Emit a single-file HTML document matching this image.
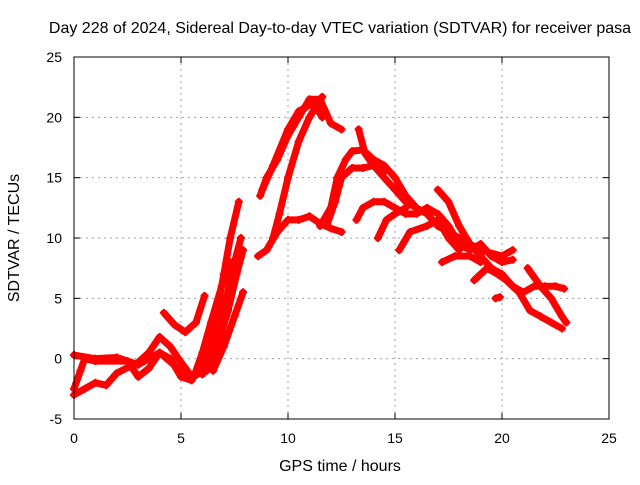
<!DOCTYPE html>
<html><head><meta charset="utf-8"><style>
body{margin:0;background:#fff;}
svg text{font-family:"Liberation Sans",sans-serif;font-size:14px;fill:#000;}
svg text.big{font-size:16px;}
</style></head><body>
<svg id="chart" width="640" height="480" xmlns="http://www.w3.org/2000/svg">
<text class="big" x="340" y="33" text-anchor="middle">Day 228 of 2024, Sidereal Day-to-day VTEC variation (SDTVAR) for receiver pasa</text>
<text class="big" x="340" y="471" text-anchor="middle">GPS time / hours</text>
<text class="big" transform="translate(19,238) rotate(-90)" text-anchor="middle">SDTVAR / TECUs</text>
<g id="grid"></g><g id="ticks"></g><g id="marks"></g>
<rect x="74" y="57" width="535" height="362" fill="none" stroke="#000" stroke-width="1"/>
</svg>
<script>
const xTicks=[0,5,10,15,20,25];
const yTicks=[-5,0,5,10,15,20,25];
const track1=[[0,0.3],[1,0],[2,0.1],[3,-0.5],[4,0.5],[5,-1],[5.6,-1.5],[6,-1]];
const track2=[[0,-3],[0.5,-2.5],[1,-2],[1.5,-2.2],[2,-1.2],[3,-0.3],[3.5,0.5],[4,1.8],[4.5,1],[5,-0.3],[5.5,-1.5],[5.8,-1.2]];
const track3=[[0,-2.5],[0.3,-1],[0.5,0],[1,-0.2],[2.5,-0.2],[3,-1.5],[3.5,-0.8],[4,0.5],[4.5,0],[5,-1.5],[5.5,-1.8]];
const track4=[[4.2,3.8],[4.7,2.8],[5.2,2.2],[5.7,3],[6.1,5.2]];
const track5=[[5.8,-1],[6.2,0],[6.6,3],[7,7],[7.3,10],[7.7,13]];
const track6=[[6,-1.3],[6.5,0.5],[7,4],[7.5,8],[7.8,10]];
const track7=[[6.2,-1],[6.7,1],[7.2,4],[7.6,7],[7.9,9]];
const track8=[[6.5,-1],[7,1],[7.5,3.5],[7.9,5.5]];
const track9=[[5.6,-1.5],[6,0.5],[6.4,3],[6.9,6],[7.3,8]];
const track10=[[8.7,13.5],[9,15],[9.5,16.5],[10,18.5],[10.5,20],[11,21.5],[11.5,21.5],[12,19.5],[12.5,19]];
const track11=[[8.8,14],[9.3,16],[10,19],[10.5,20.5],[11.2,21.2],[11.6,20]];
const track12=[[8.6,8.5],[9,9],[9.5,10.5],[10,11.5],[10.5,11.5],[11,11.8],[11.5,11.2],[12,10.8],[12.5,10.5]];
const track13=[[9.3,10],[9.6,12],[10,15],[10.5,18],[11,20],[11.6,21.7]];
const track14=[[11.5,11],[12,12.5],[12.3,15],[12.7,16.5],[13,17.2],[13.5,17.3],[14,16.5],[14.5,16],[15,15],[15.5,13.5],[16,12.5]];
const track15=[[11.8,11],[12.2,13],[12.5,15],[13,15.8],[13.5,15.8],[14,16],[14.5,15.5]];
const track16=[[13.3,19],[13.6,17],[14,16],[14.5,15],[15,14],[15.5,13],[16,12.5],[16.5,12],[17,11],[17.5,10.5],[18,10],[19,9],[20,8.5],[20.5,9]];
const track17=[[13.2,11.5],[13.5,12.5],[14,13],[14.5,13],[15,12.5],[15.5,12],[16,12],[16.5,12.5],[17,12],[17.5,11],[18,9.5],[18.5,9],[19,9.5],[19.5,8.5],[20,8],[20.5,8.2]];
const track18=[[14.2,10],[14.6,11.5],[15,12],[15.5,12.5]];
const track19=[[15.2,9],[15.7,10.5],[16.5,11],[17,11.5],[17.5,10],[18,9]];
const track20=[[17,14],[17.5,13],[18,11],[18.5,9.5],[19,8.5],[19.5,7.5],[20,7],[20.5,6],[21,5.5],[21.5,6],[22,6],[22.5,6],[22.9,5.8]];
const track21=[[17.2,8],[17.8,8.5],[18.5,8.5],[19,8]];
const track22=[[18.7,6.5],[19.3,7.5],[19.8,7],[20.2,6.5],[20.8,5.5],[21.3,4],[21.8,3.5],[22.3,3],[22.8,2.5]];
const track23=[[21.2,7.5],[21.8,6],[22.3,5],[22.8,3.5],[23,3]];
const track24=[[19.7,5],[19.9,5.1]];
const tracks=[track1,track2,track3,track4,track5,track6,track7,track8,track9,track10,track11,track12,track13,track14,track15,track16,track17,track18,track19,track20,track21,track22,track23,track24];

const NS='http://www.w3.org/2000/svg';
const X0=74,X1=609,Y0=419,Y1=57;
function sx(h){return X0+(h-0)/(25-0)*(X1-X0);}
function sy(v){return Y0-(v+5)/(25+5)*(Y0-Y1);}
function mk(tag,attrs,parent){const e=document.createElementNS(NS,tag);for(const k in attrs)e.setAttribute(k,attrs[k]);parent.appendChild(e);return e;}
const grid=document.getElementById('grid'),ticks=document.getElementById('ticks'),marks=document.getElementById('marks');
xTicks.forEach(t=>{
  const x=sx(t);
  if(t>0&&t<25){const g=mk('line',{x1:x,x2:x,y1:Y1,y2:Y0,stroke:'#a0a0a0','stroke-dasharray':'2,4'},grid);
  
  }
  mk('line',{x1:x,x2:x,y1:Y0,y2:Y0-6,stroke:'#000'},ticks);
  mk('line',{x1:x,x2:x,y1:Y1,y2:Y1+6,stroke:'#000'},ticks);
  const l=mk('text',{x:x,y:Y0+24,'text-anchor':'middle'},ticks);l.textContent=t;
  
  
});
yTicks.forEach(t=>{
  const y=sy(t);
  if(t>-5&&t<25){const g=mk('line',{x1:X0,x2:X1,y1:y,y2:y,stroke:'#a0a0a0','stroke-dasharray':'2,4'},grid);
  
  }
  mk('line',{x1:X0,x2:X0+6,y1:y,y2:y,stroke:'#000'},ticks);
  mk('line',{x1:X1,x2:X1-6,y1:y,y2:y,stroke:'#000'},ticks);
  const l=mk('text',{x:X0-12,y:y+5,'text-anchor':'end'},ticks);l.textContent=t;
  
  
});
tracks.forEach((tr,i)=>{
  const pts=tr.map(p=>sx(p[0])+','+sy(p[1])).join(' ');
  const pl=mk('polyline',{points:pts,fill:'none',stroke:'#ff0000','stroke-width':7,'stroke-linejoin':'round','stroke-linecap':'round'},marks);
  
  
  tr.forEach(p=>{
    const x=sx(p[0]),y=sy(p[1]);
    const m=mk('path',{d:`M${x-4},${y}H${x+4}M${x},${y-4}V${y+4}`,stroke:'#ff0000','stroke-width':2},marks);
    
    
  });
});
</script>
</body></html>
